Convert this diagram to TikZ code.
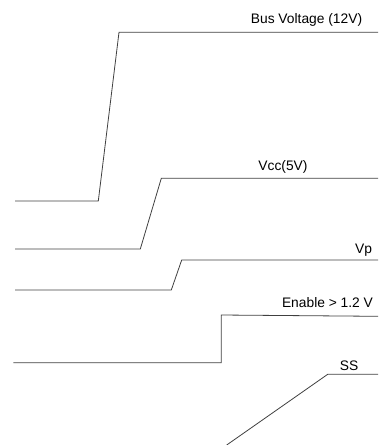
\documentclass[tikz,border=0pt]{standalone}
\usepackage{fontspec}
\setmainfont{Liberation Sans}

\begin{document}
\begin{tikzpicture}[x=1pt, y=-1pt, line width=0.8pt,
    sig/.style = {draw=black!75},
    lbl/.style = {anchor=base, inner sep=0pt, font=\fontsize{13.8}{16}\selectfont}]
  \useasboundingbox (0,0) rectangle (378,445);
  % bus voltage
  \draw[sig] (15,201) -- (98.3,201) -- (119,32.3) -- (378,32.3);
  \node[lbl] (bus) at (306.5,23.3) {Bus Voltage (12V)};
  % vcc
  \draw[sig] (15,249) -- (140.3,249) -- (161.3,178.3) -- (378,178.3);
  \node[lbl] (vcc) at (283,170) {Vcc(5V)};
  % vp
  \draw[sig] (15,290) -- (171.3,290) -- (181.7,260) -- (378,260);
  \node[lbl] (vp) at (363.5,253.3) {Vp};
  % enable
  \draw[sig] (13.3,362.7) -- (221.3,362.7) -- (221.3,315) -- (378,316.3);
  \node[lbl] (en) at (327.5,307.7) {Enable > 1.2 V};
  % soft start
  \draw[sig] (226.7,445) -- (327.7,374.3) -- (378,374.3);
  \node[lbl] (ss) at (349,370) {SS};
\end{tikzpicture}
\end{document}
